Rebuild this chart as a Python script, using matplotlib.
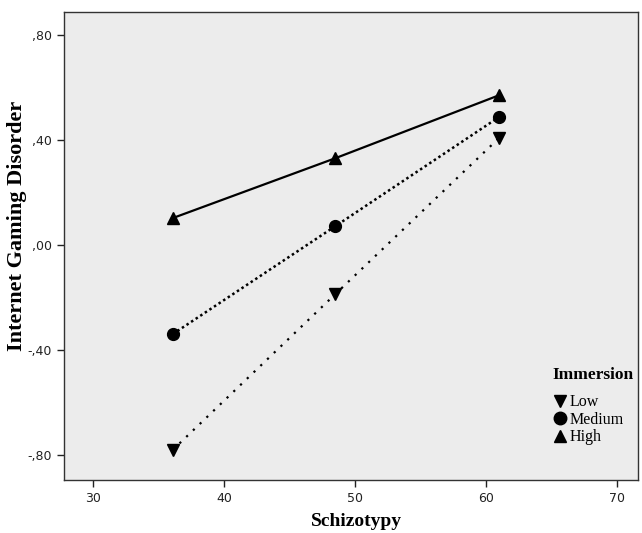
import matplotlib
matplotlib.use("Agg")
import matplotlib.pyplot as plt
from matplotlib.lines import Line2D

# schizotypy levels (mean -1SD, mean, +1SD)
schizo = [36.1, 48.5, 61.0]
igd_low = [-0.78, -0.187, 0.408]
igd_medium = [-0.339, 0.072, 0.488]
igd_high = [0.103, 0.331, 0.571]

xticks = [30, 40, 50, 60, 70]
yticks = [-0.8, -0.4, 0.0, 0.4, 0.8]
ytick_labels = ["-,80", "-,40", ",00", ",40", ",80"]

fig = plt.figure(figsize=(6.42, 5.33), dpi=100, facecolor="white")
ax = fig.add_axes([0.0997, 0.0994, 0.894, 0.878])
ax.set_facecolor("#ececec")

ms = 8.5
ax.plot(schizo, igd_low, color="black", lw=1.6, linestyle=(0, (1.0, 3.2)),
        marker="v", markersize=ms, label="Low")
ax.plot(schizo, igd_medium, color="black", lw=1.8, linestyle=(0, (1.0, 1.2)),
        marker="o", markersize=ms, label="Medium")
ax.plot(schizo, igd_high, color="black", lw=1.6, linestyle="-",
        marker="^", markersize=ms, label="High")

ax.set_xlim(27.8, 71.6)
ax.set_ylim(-0.895, 0.888)
ax.set_xticks(xticks)
ax.set_yticks(yticks)
ax.set_yticklabels(ytick_labels)
ax.tick_params(direction="out", length=5, width=1, labelsize=9,
               colors="#222222")
for s in ax.spines.values():
    s.set_color("#333333")
    s.set_linewidth(1)

serif = ["Liberation Serif", "DejaVu Serif"]
fig.text(356 / 642, 1 - 521 / 533, "Schizotypy", fontsize=14,
         fontweight="bold", family=serif, ha="center", va="center")
fig.text(17 / 642, 1 - 226 / 533, "Internet Gaming Disorder", fontsize=16,
         fontweight="bold", family=serif, ha="center", va="center",
         rotation=90)

handles = [Line2D([], [], color="black", linestyle="none", marker=m,
                  markersize=9) for m in ["v", "o", "^"]]
leg = ax.legend(handles, ["Low", "Medium", "High"], title="Immersion",
                loc="upper left", bbox_to_anchor=(0.84, 0.255),
                frameon=False, handletextpad=0.05, handlelength=1.0,
                labelspacing=0.1, borderaxespad=0,
                prop={"family": serif, "size": 11.5},
                title_fontproperties={"family": serif, "size": 12.5,
                                      "weight": "bold"})
leg._legend_box.align = "left"
leg._legend_box.sep = 8

fig.savefig("out.png", dpi=100, facecolor="white")
